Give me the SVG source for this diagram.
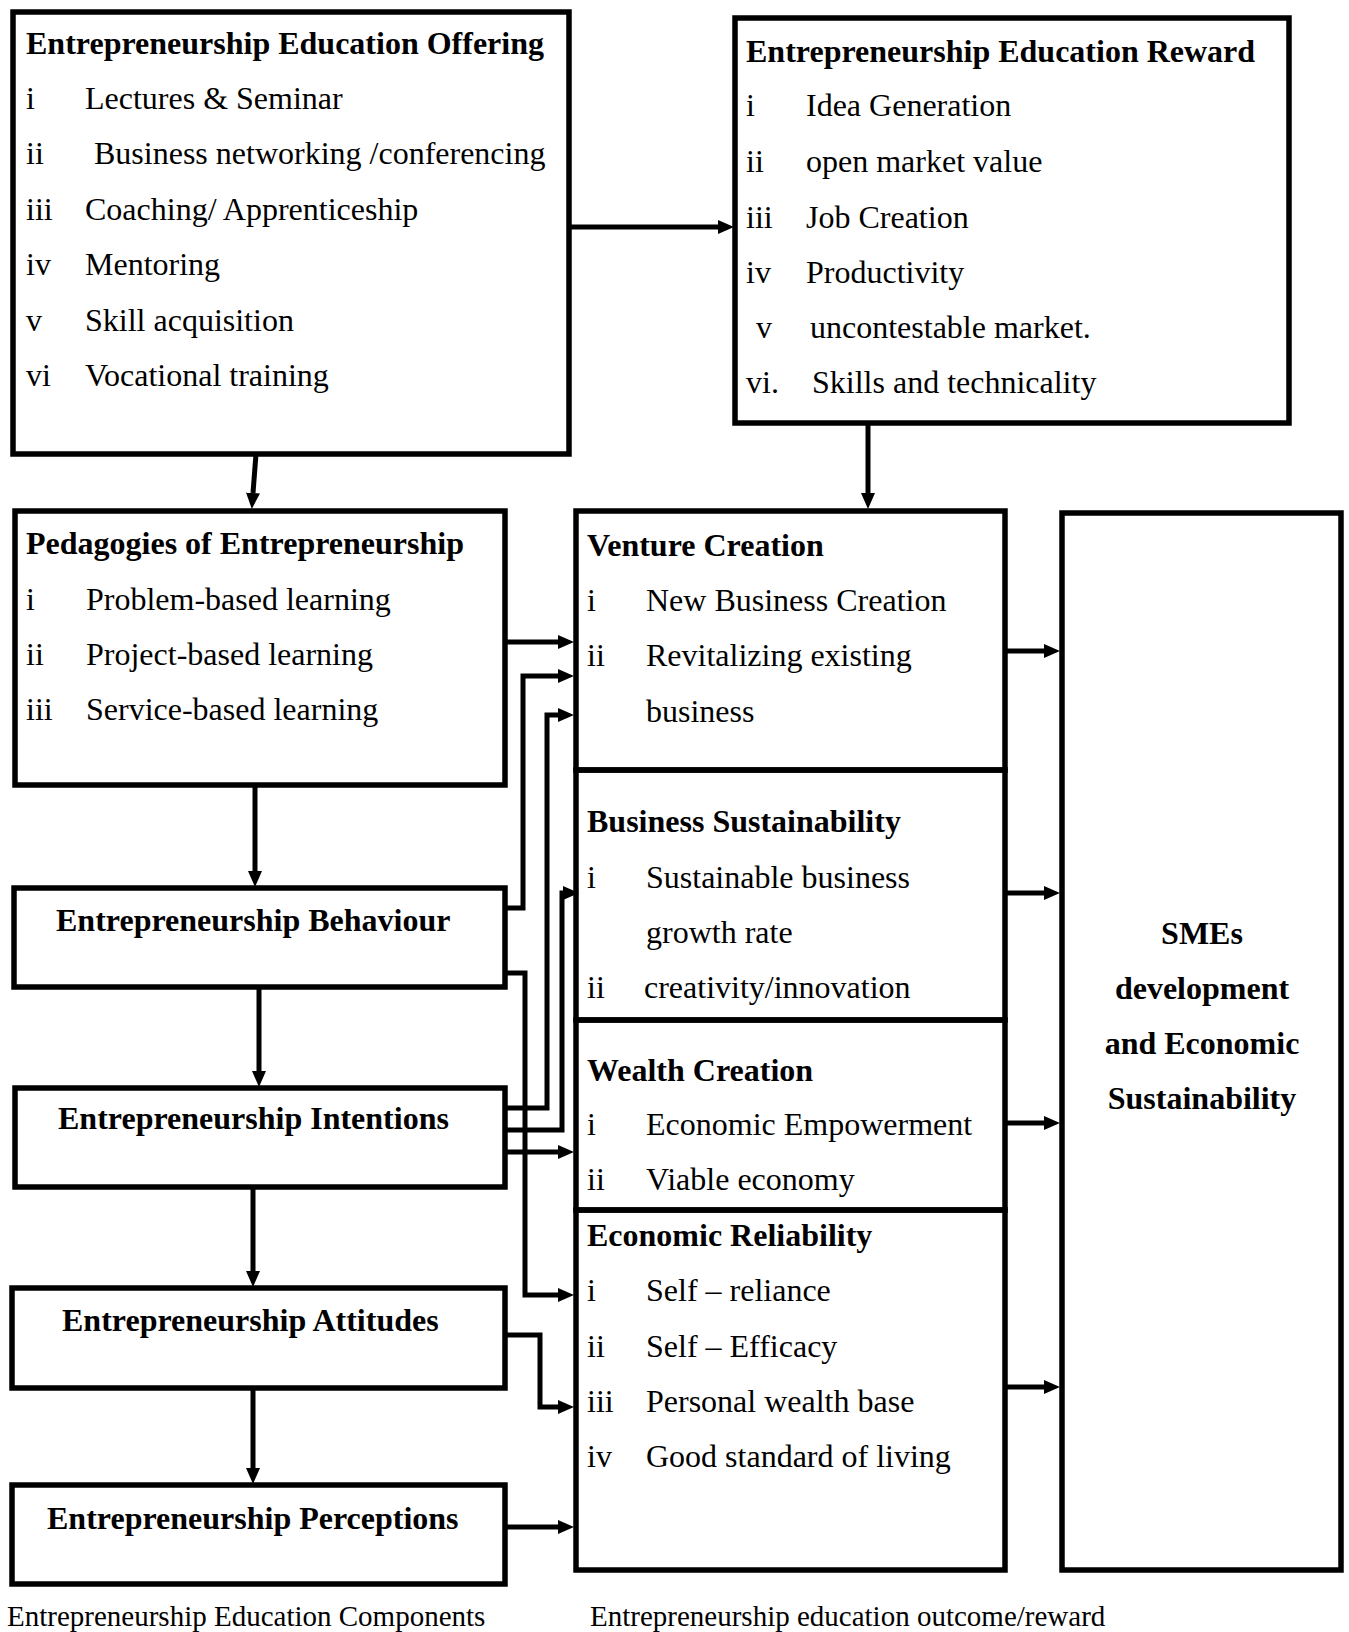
<svg xmlns="http://www.w3.org/2000/svg" width="1349" height="1632" viewBox="0 0 1349 1632">
<style>
.box{fill:none;stroke:#000;stroke-width:5.5}
.c{fill:none;stroke:#000;stroke-width:5}
text{font-family:"Liberation Serif","Times New Roman",serif;font-size:32px;fill:#000}
.b{font-weight:bold}
.cap{font-size:29px}
</style>
<defs>
<marker id="ah" markerUnits="userSpaceOnUse" markerWidth="16" markerHeight="16" refX="0" refY="8" orient="auto">
<path d="M0,1 L16,8 L0,15 z" fill="#000"/>
</marker>
</defs>
<rect width="1349" height="1632" fill="#fff"/>

<g id="offering">
<rect class="box" x="13" y="12" width="556" height="442"/>
<text class="b" x="26" y="54">Entrepreneurship Education Offering</text>
<text x="26" y="109">i</text><text x="85" y="109">Lectures &amp; Seminar</text>
<text x="26" y="164">ii</text><text x="94" y="164">Business networking /conferencing</text>
<text x="26" y="220">iii</text><text x="85" y="220">Coaching/ Apprenticeship</text>
<text x="26" y="275">iv</text><text x="85" y="275">Mentoring</text>
<text x="26" y="331">v</text><text x="85" y="331">Skill acquisition</text>
<text x="26" y="386">vi</text><text x="85" y="386">Vocational training</text>
</g>

<g id="reward">
<rect class="box" x="735" y="18" width="554" height="405"/>
<text class="b" x="746" y="62">Entrepreneurship Education Reward</text>
<text x="746" y="116">i</text><text x="806" y="116">Idea Generation</text>
<text x="746" y="172">ii</text><text x="806" y="172">open market value</text>
<text x="746" y="228">iii</text><text x="806" y="228">Job Creation</text>
<text x="746" y="283">iv</text><text x="806" y="283">Productivity</text>
<text x="756" y="338">v</text><text x="810" y="338">uncontestable market.</text>
<text x="746" y="393">vi.</text><text x="812" y="393">Skills and technicality</text>
</g>

<g id="pedagogies">
<rect class="box" x="15" y="511" width="490" height="274"/>
<text class="b" x="26" y="554">Pedagogies of Entrepreneurship</text>
<text x="26" y="610">i</text><text x="86" y="610">Problem-based learning</text>
<text x="26" y="665">ii</text><text x="86" y="665">Project-based learning</text>
<text x="26" y="720">iii</text><text x="86" y="720">Service-based learning</text>
</g>

<g id="behaviour">
<rect class="box" x="14" y="888" width="491" height="99"/>
<text class="b" x="56" y="931">Entrepreneurship Behaviour</text>
</g>

<g id="intentions">
<rect class="box" x="15" y="1088" width="490" height="99"/>
<text class="b" x="58" y="1129">Entrepreneurship Intentions</text>
</g>

<g id="attitudes">
<rect class="box" x="12" y="1288" width="493" height="100"/>
<text class="b" x="62" y="1331">Entrepreneurship Attitudes</text>
</g>

<g id="perceptions">
<rect class="box" x="12" y="1485" width="493" height="99"/>
<text class="b" x="47" y="1529">Entrepreneurship Perceptions</text>
</g>

<g id="venture">
<rect class="box" x="576" y="511" width="429" height="259"/>
<text class="b" x="587" y="556">Venture Creation</text>
<text x="587" y="611">i</text><text x="646" y="611">New Business Creation</text>
<text x="587" y="666">ii</text><text x="646" y="666">Revitalizing existing</text>
<text x="646" y="722">business</text>
</g>

<g id="sustainability">
<rect class="box" x="576" y="770" width="429" height="250"/>
<text class="b" x="587" y="832">Business Sustainability</text>
<text x="587" y="888">i</text><text x="646" y="888">Sustainable business</text>
<text x="646" y="943">growth rate</text>
<text x="587" y="998">ii</text><text x="644" y="998">creativity/innovation</text>
</g>

<g id="wealth">
<rect class="box" x="576" y="1020" width="429" height="190"/>
<text class="b" x="587" y="1081">Wealth Creation</text>
<text x="587" y="1135">i</text><text x="646" y="1135">Economic Empowerment</text>
<text x="587" y="1190">ii</text><text x="646" y="1190">Viable economy</text>
</g>

<g id="reliability">
<rect class="box" x="576" y="1210" width="429" height="360"/>
<text class="b" x="587" y="1246">Economic Reliability</text>
<text x="587" y="1301">i</text><text x="646" y="1301">Self – reliance</text>
<text x="587" y="1357">ii</text><text x="646" y="1357">Self – Efficacy</text>
<text x="587" y="1412">iii</text><text x="646" y="1412">Personal wealth base</text>
<text x="587" y="1467">iv</text><text x="646" y="1467">Good standard of living</text>
</g>

<g id="smes">
<rect class="box" x="1062" y="513" width="279" height="1057"/>
<text class="b" x="1202" y="944" text-anchor="middle">SMEs</text>
<text class="b" x="1202" y="999" text-anchor="middle">development</text>
<text class="b" x="1202" y="1054" text-anchor="middle">and Economic</text>
<text class="b" x="1202" y="1109" text-anchor="middle">Sustainability</text>
</g>

<g id="captions">
<text class="cap" x="7" y="1626">Entrepreneurship Education Components</text>
<text class="cap" x="590" y="1626">Entrepreneurship education outcome/reward</text>
</g>

<g id="connectors">
<path class="c" marker-end="url(#ah)" d="M569,227 L718,227"/>
<path class="c" marker-end="url(#ah)" d="M256,454 L253,493"/>
<path class="c" marker-end="url(#ah)" d="M868,423 L868,493"/>
<path class="c" marker-end="url(#ah)" d="M255,785 L255,871"/>
<path class="c" marker-end="url(#ah)" d="M259,987 L259,1071"/>
<path class="c" marker-end="url(#ah)" d="M253,1187 L253,1271"/>
<path class="c" marker-end="url(#ah)" d="M253,1388 L253,1468"/>
<path class="c" marker-end="url(#ah)" d="M505,642 L558,642"/>
<path class="c" marker-end="url(#ah)" d="M505,908 L523,908 L523,676 L558,676"/>
<path class="c" marker-end="url(#ah)" d="M505,1108 L547,1108 L547,715 L558,715"/>
<path class="c" marker-end="url(#ah)" d="M505,1130 L562,1130 L562,893 L563,893"/>
<path class="c" marker-end="url(#ah)" d="M505,1152 L558,1152"/>
<path class="c" marker-end="url(#ah)" d="M505,973 L525,973 L525,1295 L558,1295"/>
<path class="c" marker-end="url(#ah)" d="M505,1335 L540,1335 L540,1407 L558,1407"/>
<path class="c" marker-end="url(#ah)" d="M505,1527 L558,1527"/>
<path class="c" marker-end="url(#ah)" d="M1005,651 L1044,651"/>
<path class="c" marker-end="url(#ah)" d="M1005,893 L1044,893"/>
<path class="c" marker-end="url(#ah)" d="M1005,1123 L1044,1123"/>
<path class="c" marker-end="url(#ah)" d="M1005,1387 L1044,1387"/>
</g>
</svg>
